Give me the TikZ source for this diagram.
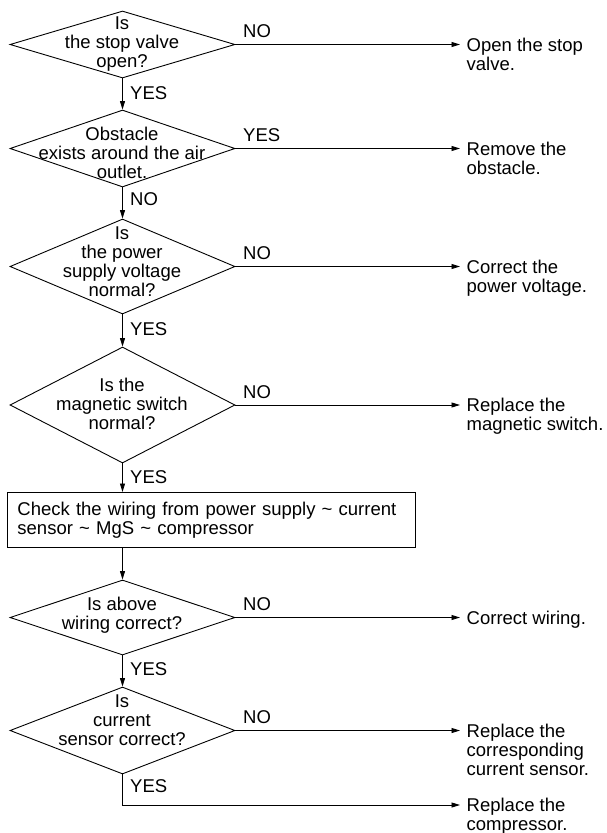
\documentclass[tikz,border=0pt]{standalone}
\usepackage{fontspec}
\setmainfont{Liberation Sans}
\usetikzlibrary{shapes.geometric,arrows.meta}
\begin{document}
\begin{tikzpicture}[x=1pt,y=-1pt,
 txt/.style={font=\fontsize{18.5}{19}\selectfont, inner sep=0pt, align=center},
 dia/.style={diamond, draw, line width=0.9pt, inner sep=0pt, minimum width=225pt},
 res/.style={font=\fontsize{18.5}{19}\selectfont, inner ysep=0pt, inner xsep=6.5pt, align=left, anchor=north west},
 lbl/.style={font=\fontsize{18.5}{19}\selectfont, inner sep=0pt, anchor=base west},
 arr/.style={line width=0.9pt, -{Triangle[length=8.5pt,width=5pt]}},
 ln/.style={line width=0.9pt}]
\useasboundingbox (0,0) rectangle (606,833);

% decisions
\node[dia, minimum height=67pt] (d1) at (122.5,44.5) {};
\node[txt] (t1) at (122,44) {Is\\the stop valve\\open?};
\node[dia, minimum height=77pt] (d2) at (122.5,148.5) {};
\node[txt] (t2) at (122,153) {Obstacle\\exists around the air\\outlet.};
\node[dia, minimum height=95pt] (d3) at (122.5,266.5) {};
\node[txt] (t3) at (122,261.5) {Is\\the power\\supply voltage\\normal?};
\node[dia, minimum height=116pt] (d4) at (122.5,405) {};
\node[txt] (t4) at (122,404) {Is the\\magnetic switch\\normal?};
\node[dia, minimum height=75pt] (d5) at (122.5,617.5) {};
\node[txt] (t5) at (122,615) {Is above\\wiring correct?};
\node[dia, minimum height=87pt] (d6) at (122.5,730.5) {};
\node[txt] (t6) at (122,720.5) {Is\\current\\sensor correct?};

% process box
\node[draw, ln, font=\fontsize{18.5}{19}\selectfont, align=left, text width=388pt,
      inner xsep=10pt, inner ysep=0pt, minimum height=55pt, anchor=north west]
      (box) at (7,492) {Check the wiring from power supply \textasciitilde{} current\\sensor \textasciitilde{} MgS \textasciitilde{} compressor};

% results
\node[res] (r1) at (460,37.5) {Open the stop\\valve.};
\node[res] (r2) at (460,141.5) {Remove the\\obstacle.};
\node[res] (r3) at (460,259.5) {Correct the\\power voltage.};
\node[res] (r4) at (460,398) {Replace the\\magnetic switch.};
\node[res] (r5) at (460,610.5) {Correct wiring.};
\node[res] (r6) at (460,723.5) {Replace the\\corresponding\\current sensor.};
\node[res] (r7) at (460,798) {Replace the\\compressor.};

% vertical connectors
\draw[arr] (d1.south) -- (d2.north);
\draw[arr] (d2.south) -- (d3.north);
\draw[arr] (d3.south) -- (d4.north);
\draw[arr] (d4.south) -- (d4.south |- box.north);
\draw[arr] (box.south -| d5.north) -- (d5.north);
\draw[arr] (d5.south) -- (d6.north);
\coordinate (c7) at (122.5,805);
\draw[arr] (d6.south) -- (c7) -- (c7 -| r7.west);

% horizontal connectors
\draw[arr] (d1.east) -- (d1.east -| r1.west);
\draw[arr] (d2.east) -- (d2.east -| r2.west);
\draw[arr] (d3.east) -- (d3.east -| r3.west);
\draw[arr] (d4.east) -- (d4.east -| r4.west);
\draw[arr] (d5.east) -- (d5.east -| r5.west);
\draw[arr] (d6.east) -- (d6.east -| r6.west);

% labels on horizontal connectors
\node[lbl] (n1) at (243,37.5) {NO};
\node[lbl] (n2) at (243,141) {YES};
\node[lbl] (n3) at (243,259.5) {NO};
\node[lbl] (n4) at (243,398) {NO};
\node[lbl] (n5) at (243,610.5) {NO};
\node[lbl] (n6) at (243,723.5) {NO};

% labels on vertical connectors
\node[lbl] (v1) at (130,99) {YES};
\node[lbl] (v2) at (130,205) {NO};
\node[lbl] (v3) at (130,335) {YES};
\node[lbl] (v4) at (130,483) {YES};
\node[lbl] (v5) at (130,675) {YES};
\node[lbl] (v6) at (130,792) {YES};
\end{tikzpicture}
\end{document}
